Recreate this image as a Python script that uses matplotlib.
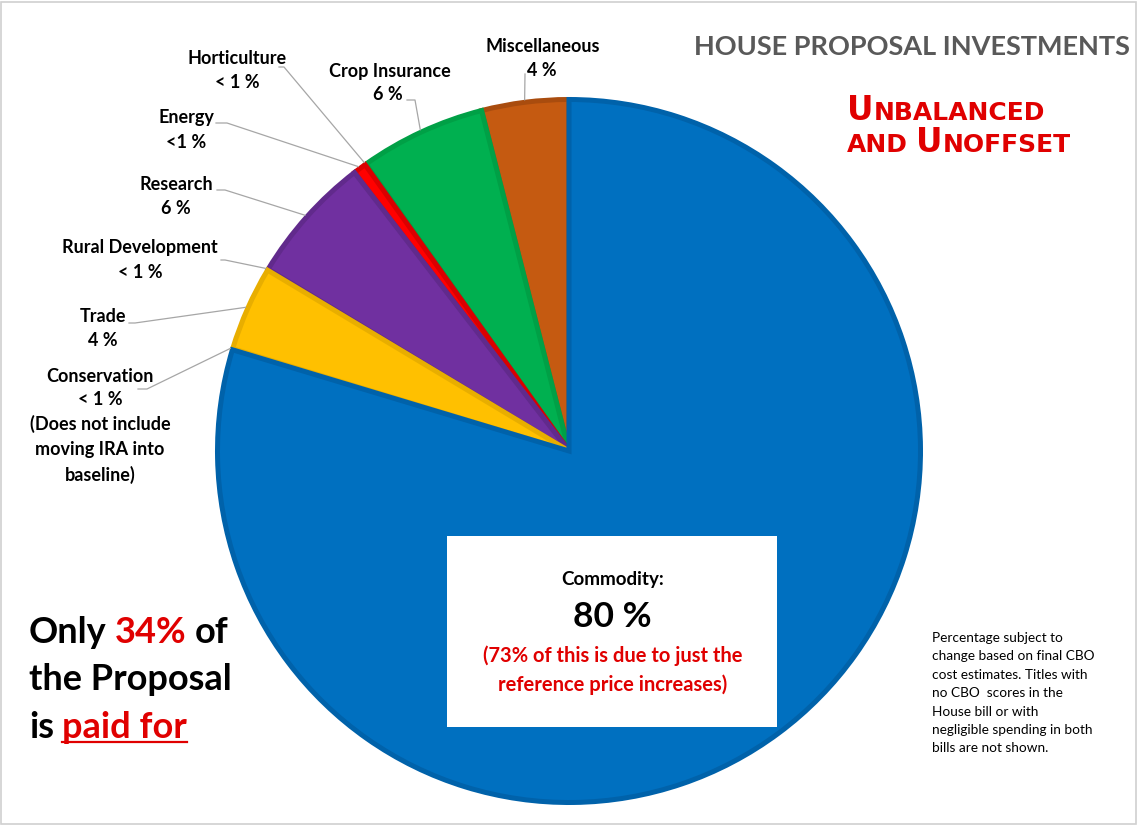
import matplotlib
matplotlib.use("Agg")
import matplotlib.pyplot as plt
from matplotlib import font_manager
from matplotlib.patches import Rectangle
from matplotlib.lines import Line2D
import numpy as np

W, H = 1138, 826

# ---------------- data ----------------
categories = ['Miscellaneous', 'Crop Insurance', 'Horticulture', 'Energy', 'Research',
              'Rural Development', 'Trade', 'Conservation', 'Commodity']
values = [4.0, 5.8, 0.05, 0.6, 5.9, 0.05, 3.9, 0.05, 79.65]
pct_labels = ['4 %', '6 %', '< 1 %', '<1 %', '6 %', '< 1 %', '4 %', '< 1 %', '80 %']
extra_notes = {'Conservation': ['(Does not include', 'moving IRA into', 'baseline)']}
face_colors = ['#C55A11', '#00B050', '#70AD47', '#FF0000', '#7030A0',
               '#A5A5A5', '#FFC000', '#4472C4', '#0070C0']
edge_colors = ['#A94C0E', '#00A046', '#70AD47', '#DA0000', '#612A8C',
               '#A5A5A5', '#E8AE00', '#4472C4', '#0062AA']
title = 'HOUSE PROPOSAL INVESTMENTS'
note_lines = ['Percentage subject to', 'change based on final CBO', 'cost estimates. Titles with',
              'no CBO  scores in the', 'House bill or with', 'negligible spending in both',
              'bills are not shown.']

names = {f.name for f in font_manager.fontManager.ttflist}
FONT = 'Lato' if 'Lato' in names else 'DejaVu Sans'

def P(x, y):
    return (x / W, 1 - y / H)

fig = plt.figure(figsize=(W / 100, H / 100), dpi=100)
fig.patch.set_facecolor('white')

# ---------------- pie ----------------
R_px = 354
cx, cy = 569, 451
ax = fig.add_axes([(cx - R_px) / W, (H - cy - R_px) / H, 2 * R_px / W, 2 * R_px / H])
lw_px = 5
r_draw = 1 - (lw_px / 2) / R_px
wedges, _ = ax.pie(values, colors=face_colors, startangle=90, counterclock=True,
                   radius=r_draw, wedgeprops=dict(linewidth=lw_px * 0.72))
for w, ec, v in zip(wedges, edge_colors, values):
    w.set_edgecolor(ec)
    if v < 0.2:
        w.set_linewidth(0)
ax.set_xlim(-1, 1)
ax.set_ylim(-1, 1)
ax.set_aspect('auto')
ax.axis('off')

# ---------------- labels with leader lines ----------------
label_layout = {
    'Miscellaneous':     ((543, 46), (542, 70), [(525, 74)]),
    'Crop Insurance':    ((390, 72), (388, 95), [(407, 100), (415, 100)]),
    'Horticulture':      ((237, 58), (237, 82), [(279, 67), (284, 67)]),
    'Energy':            ((186, 118), (186, 142), [(216, 123), (227, 123)]),
    'Research':          ((176, 185), (176, 208), [(217, 190), (225, 190)]),
    'Rural Development': ((140, 248), (140, 272), [(221, 260), (225, 260)]),
    'Trade':             ((103, 317), (103, 340), [(129, 323), (135, 323)]),
    'Conservation':      ((100, 376), (100, 399), [(138, 389), (147, 389)]),
}
lab_kw = dict(fontsize=13, fontweight='bold', family=FONT, color='black', ha='center', va='center')
for w, cat, pl in zip(wedges, categories, pct_labels):
    if cat not in label_layout:
        continue
    (nx, ny), (px_, py_), pts = label_layout[cat]
    fig.text(*P(nx, ny), cat, **lab_kw)
    fig.text(*P(px_, py_), pl, **lab_kw)
    if cat in extra_notes:
        for i, line in enumerate(extra_notes[cat]):
            fig.text(*P(nx, py_ + 25 * (i + 1) + (1 if i == 2 else 0)), line, **lab_kw)
    mid = np.deg2rad((w.theta1 + w.theta2) / 2)
    anchor_disp = ax.transData.transform((np.cos(mid), np.sin(mid)))
    ax_f = fig.transFigure.inverted().transform(anchor_disp)
    xs = [P(*p)[0] for p in pts] + [ax_f[0]]
    ys = [P(*p)[1] for p in pts] + [ax_f[1]]
    fig.add_artist(Line2D(xs, ys, transform=fig.transFigure, color='#A6A6A6', lw=0.9))

# ---------------- helper for multi-style text ----------------
renderer = fig.canvas.get_renderer()

def rich(x, ybase, parts, family=FONT, weight='bold'):
    """parts: list of (text, color, size, underline, gap_after_px)."""
    cur = x
    for s, color, size, underline, gap in parts:
        kw = dict(fontsize=size, family=family, fontweight=weight)
        t = fig.text(*P(cur, ybase), s, color=color, ha='left', va='baseline', **kw)
        wpx = t.get_window_extent(renderer).width
        if underline:
            fig.add_artist(Line2D([P(cur, 0)[0], P(cur + wpx, 0)[0]],
                                  [P(0, ybase + 4)[1]] * 2, transform=fig.transFigure,
                                  color=color, lw=1.6))
        cur += wpx + gap

# ---------------- title ----------------
fig.text(*P(1130, 47), title, fontsize=19.5, fontweight='bold', family=FONT,
         color='#595959', ha='right', va='center')

# small-caps subtitle
RED = '#E00000'
big, small = 23.5, 18
rich(847, 120, [('U', RED, big, False, 0), ('NBALANCED', RED, small, False, 0)], family='DejaVu Sans')
rich(847, 152, [('AND', RED, small, False, 8), ('U', RED, big, False, 0), ('NOFFSET', RED, small, False, 0)],
     family='DejaVu Sans')

# ---------------- left statement ----------------
sp = 8
rich(29, 643, [('Only', 'black', 26, False, sp), ('34%', RED, 26, False, sp), ('of', 'black', 26, False, 0)])
rich(29, 690, [('the Proposal', 'black', 26, False, 0)])
rich(29, 738, [('is', 'black', 26, False, sp), ('paid for', RED, 26, True, 0)])

# ---------------- commodity box ----------------
bx0, by0, bx1, by1 = 447, 536, 777, 727
fig.add_artist(Rectangle(P(bx0, by1), (bx1 - bx0) / W, (by1 - by0) / H,
                         transform=fig.transFigure, facecolor='white', edgecolor='none', zorder=2))
bxc = (bx0 + bx1) / 2 + 0.5
fig.text(*P(bxc, 580), categories[-1] + ':', fontsize=13.5, fontweight='bold', family=FONT,
         color='black', ha='center', va='center', zorder=3)
fig.text(*P(bxc, 617), pct_labels[-1], fontsize=25.5, fontweight='bold', family=FONT,
         color='black', ha='center', va='center', zorder=3)
fig.text(*P(bxc, 656), '(73% of this is due to just the', fontsize=14.5, fontweight='bold',
         family=FONT, color=RED, ha='center', va='center', zorder=3)
fig.text(*P(bxc, 685), 'reference price increases)', fontsize=14.5, fontweight='bold',
         family=FONT, color=RED, ha='center', va='center', zorder=3)

# ---------------- note ----------------
for i, line in enumerate(note_lines):
    fig.text(*P(932, 638 + 18.4 * i), line, fontsize=9.8, family=FONT, color='black',
             ha='left', va='center')

# ---------------- frame ----------------
fig.add_artist(Rectangle((0.001, 0.002), 0.997, 0.996, transform=fig.transFigure,
                         facecolor='none', edgecolor='#D0D0D0', lw=1.2, zorder=5))

fig.savefig('out.png', dpi=100, facecolor='white')
